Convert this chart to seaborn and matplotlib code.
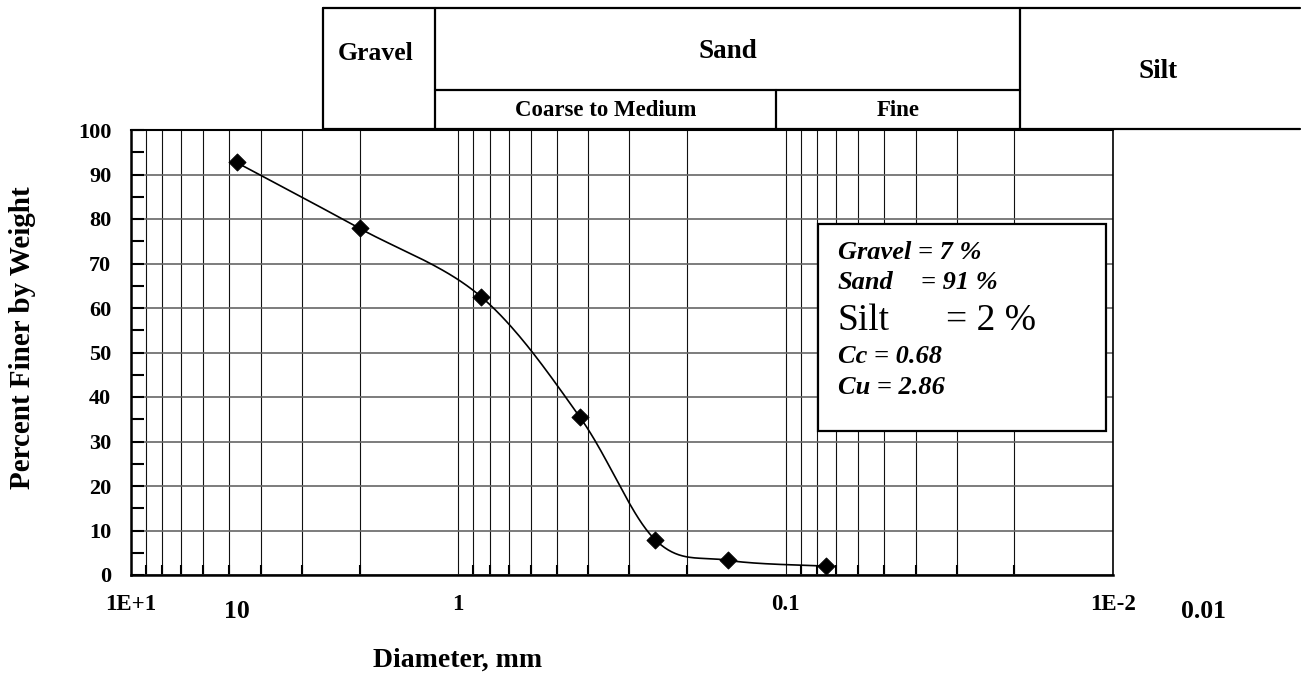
import numpy as np
import seaborn as sns
import matplotlib.pyplot as plt
from matplotlib.lines import Line2D
from matplotlib.patches import Rectangle
from matplotlib.ticker import FixedLocator, FixedFormatter, NullFormatter

# style first, then font list (set_theme resets font.family)
sns.set_theme(style="white", rc={'text.color': 'black', 'axes.labelcolor': 'black',
                                 'xtick.color': 'black', 'ytick.color': 'black'})
plt.rcParams['font.family'] = ['Liberation Serif', 'DejaVu Serif']

# sieve data
diameter_mm = [4.75, 2.0, 0.85, 0.425, 0.25, 0.15, 0.075]
percent_finer = [92.7, 77.9, 62.5, 35.5, 7.9, 3.3, 2.0]

x_major = [10, 1, 0.1, 0.01]
x_major_labels = ['1E+1', '1', '0.1', '1E-2']
x_minor = [k * 10.0 ** e for e in (-2, -1, 0) for k in range(2, 10)]
y_major = list(range(0, 101, 10))
y_minor = list(range(5, 100, 10))

header_top = ['Gravel', 'Sand', 'Silt']
header_sub = ['Coarse to Medium', 'Fine']

W, H = 1301, 679
fx = lambda px: px / W
fy = lambda py: 1 - py / H

fig = plt.figure(figsize=(W / 100, H / 100), dpi=100)
ax = fig.add_axes([fx(130.7), fy(575), fx(1113) - fx(130.7), fy(130) - fy(575)])

ax.set_xscale('log')
ax.set_xlim(10, 0.01)
ax.set_ylim(0, 100)

# smoothed curve like excel (catmull-rom in screen space)
pts = ax.transData.transform(np.column_stack([diameter_mm, percent_finer]))
ext = np.vstack([pts[0], pts, pts[-1]])
curve = []
for i in range(1, len(ext) - 2):
    p0, p1, p2, p3 = ext[i - 1], ext[i], ext[i + 1], ext[i + 2]
    c1 = p1 + (p2 - p0) / 6
    c2 = p2 - (p3 - p1) / 6
    t = np.linspace(0, 1, 40)[:, None]
    seg = (1 - t) ** 3 * p1 + 3 * (1 - t) ** 2 * t * c1 + 3 * (1 - t) * t ** 2 * c2 + t ** 3 * p2
    curve.append(seg)
curve = ax.transData.inverted().transform(np.vstack(curve))

sns.lineplot(x=curve[:, 0], y=curve[:, 1], ax=ax, color='black', lw=1.2,
             sort=False, estimator=None, zorder=4)
sns.scatterplot(x=diameter_mm, y=percent_finer, ax=ax, marker='D', s=75,
                color='black', edgecolor='black', zorder=5)
ax.set_xlim(10, 0.01)
ax.set_ylim(0, 100)

# ticks
ax.xaxis.set_major_locator(FixedLocator(x_major))
ax.xaxis.set_major_formatter(FixedFormatter(x_major_labels))
ax.xaxis.set_minor_locator(FixedLocator(x_minor))
ax.xaxis.set_minor_formatter(NullFormatter())
ax.yaxis.set_major_locator(FixedLocator(y_major))
ax.yaxis.set_minor_locator(FixedLocator(y_minor))

ax.tick_params(axis='x', which='major', direction='in', length=14, width=1.5,
               color='black', labelcolor='black', pad=14, labelsize=16.5)
ax.tick_params(axis='x', which='minor', direction='in', length=7, width=1.5,
               color='black', bottom=True)
ax.tick_params(axis='y', which='both', direction='in', length=9.5, width=1.5,
               color='black', labelcolor='black', left=True, pad=14, labelsize=16)
for lab in ax.get_xticklabels() + ax.get_yticklabels():
    lab.set_fontweight('bold')

# grid
ax.grid(True, which='both', axis='x', color='#111111', lw=0.8)
ax.grid(True, which='major', axis='y', color='#666666', lw=1.2)
ax.set_axisbelow(True)

for side, lw in [('left', 1.8), ('bottom', 1.8), ('top', 1.5), ('right', 1.2)]:
    ax.spines[side].set_visible(True)
    ax.spines[side].set_color('black')
    ax.spines[side].set_linewidth(lw)

ax.set_xlabel('')
ax.set_ylabel('')

# odd extra labels that sit under the axis
fig.text(fx(237), fy(612), '10', ha='center', va='center', fontsize=18.5, fontweight='bold')
fig.text(fx(1204), fy(612), '0.01', ha='center', va='center', fontsize=18.5, fontweight='bold')

# axis titles
fig.text(fx(458), fy(660), 'Diameter, mm', ha='center', va='center', fontsize=20, fontweight='bold')
fig.text(fx(23), fy(338), 'Percent Finer by Weight', ha='center', va='center',
         rotation=90, fontsize=21, fontweight='bold')

# summary box
box = Rectangle((fx(818), fy(431)), fx(1106) - fx(818), fy(224) - fy(431),
                transform=fig.transFigure, facecolor='white', edgecolor='black',
                lw=1.6, zorder=6)
fig.add_artist(box)
bi = dict(fontsize=19, fontweight='bold', fontstyle='italic', ha='left', va='baseline', zorder=7)
fig.text(fx(838), fy(259), 'Gravel = 7 %', **bi)
fig.text(fx(838), fy(289), 'Sand', **bi)
fig.text(fx(921), fy(289), '= 91 %', **bi)
fig.text(fx(838), fy(330), 'Silt', fontsize=27, ha='left', va='baseline', zorder=7)
fig.text(fx(946), fy(330), '= 2 %', fontsize=27, ha='left', va='baseline', zorder=7)
fig.text(fx(838), fy(363), 'Cc = 0.68', **bi)
fig.text(fx(838), fy(394), 'Cu = 2.86', **bi)

# soil classification header table
hl = dict(color='black', lw=1.6, transform=fig.transFigure)
fig.add_artist(Line2D([fx(323), fx(1300)], [fy(7.5), fy(7.5)], **hl))
fig.add_artist(Line2D([fx(323), fx(1300)], [fy(128.5), fy(128.5)], **hl))
fig.add_artist(Line2D([fx(435), fx(1020)], [fy(89.5), fy(89.5)], **hl))
fig.add_artist(Line2D([fx(323), fx(323)], [fy(7.5), fy(128.5)], **hl))
fig.add_artist(Line2D([fx(435), fx(435)], [fy(7.5), fy(128.5)], **hl))
fig.add_artist(Line2D([fx(1020), fx(1020)], [fy(7.5), fy(128.5)], **hl))
fig.add_artist(Line2D([fx(776), fx(776)], [fy(89.5), fy(128.5)], **hl))

ht = dict(ha='center', va='center', fontweight='bold')
fig.text(fx(376), fy(54), header_top[0], fontsize=18.5, **ht)
fig.text(fx(728), fy(51), header_top[1], fontsize=19.5, **ht)
fig.text(fx(1158), fy(71), header_top[2], fontsize=19.5, **ht)
fig.text(fx(606), fy(111), header_sub[0], fontsize=16.5, **ht)
fig.text(fx(898), fy(111), header_sub[1], fontsize=16.5, **ht)

fig.savefig('out.png', dpi=100)
